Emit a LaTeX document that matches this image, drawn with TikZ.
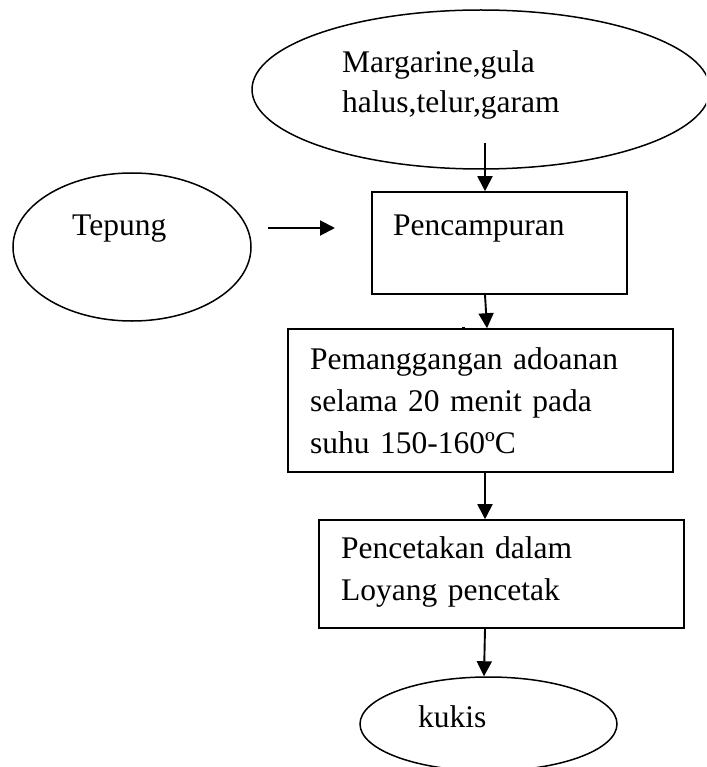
\documentclass[tikz,border=0pt]{standalone}
\usepackage{fontspec}
\setmainfont{Liberation Serif}
\usetikzlibrary{shapes.geometric,arrows.meta}
\tikzset{
  ell/.style={draw, line width=1.5pt, ellipse, inner sep=0pt},
  boxnode/.style={draw, line width=1.6pt, rectangle, inner sep=0pt},
  txt/.style={anchor=base west, inner sep=0pt, align=left, text width=400pt,
    font=\fontsize{31.5}{42}\selectfont},
  arr/.style={line width=1.9pt, -{Triangle[length=15pt,width=15pt]}},
}
\begin{document}
\begin{tikzpicture}[x=1pt,y=-1pt]
\useasboundingbox (0,0) rectangle (706,767);
\clip (0,0) rectangle (706,767);

% shapes
\node[ell, minimum width=458pt, minimum height=159pt] (bahan) at (481,89.5) {};
\node[ell, minimum width=238pt, minimum height=148pt] (tepung) at (132,247) {};
\node[boxnode, minimum width=255pt, minimum height=102pt] (campur) at (499.5,243) {};
\node[boxnode, minimum width=385pt, minimum height=143pt] (panggang) at (480.5,400.5) {};
\node[boxnode, minimum width=365pt, minimum height=108pt] (cetak) at (501.5,574) {};
\node[ell, minimum width=257pt, minimum height=94pt] (kukis) at (488.5,724) {};

% texts
\node[txt, font=\fontsize{31.5}{40}\selectfont] (tbahan) at (342,73) {Margarine,gula\\halus,telur,garam};
\node[txt] (ttepung) at (72,235) {Tepung};
\node[txt] (tcampur) at (393,235) {Pencampuran};
\node[txt] (tpanggang) at (310,369) {Pemanggangan adoanan\\selama 20 menit pada\\suhu 150-160ºC};
\node[txt] (tcetak) at (341,558) {Pencetakan dalam\\Loyang pencetak};
\node[txt] (tkukis) at (418,727) {kukis};

% connectors
\coordinate (s1) at (485,143);
\draw[arr] (s1) -- (485,0 |- campur.north);
\coordinate (s2) at (268,228);
\coordinate (e2) at (335,228);
\draw[arr] (s2) -- (e2);
\draw[arr] (485,0 |- campur.south) -- (487,0 |- panggang.north);
\draw[arr] (485,0 |- panggang.south) -- (485,0 |- cetak.north);
\draw[arr] (485,0 |- cetak.south) -- (484,0 |- kukis.north);

% stray mark
\fill (462,326.5) rectangle (464.5,329);
\end{tikzpicture}
\end{document}
